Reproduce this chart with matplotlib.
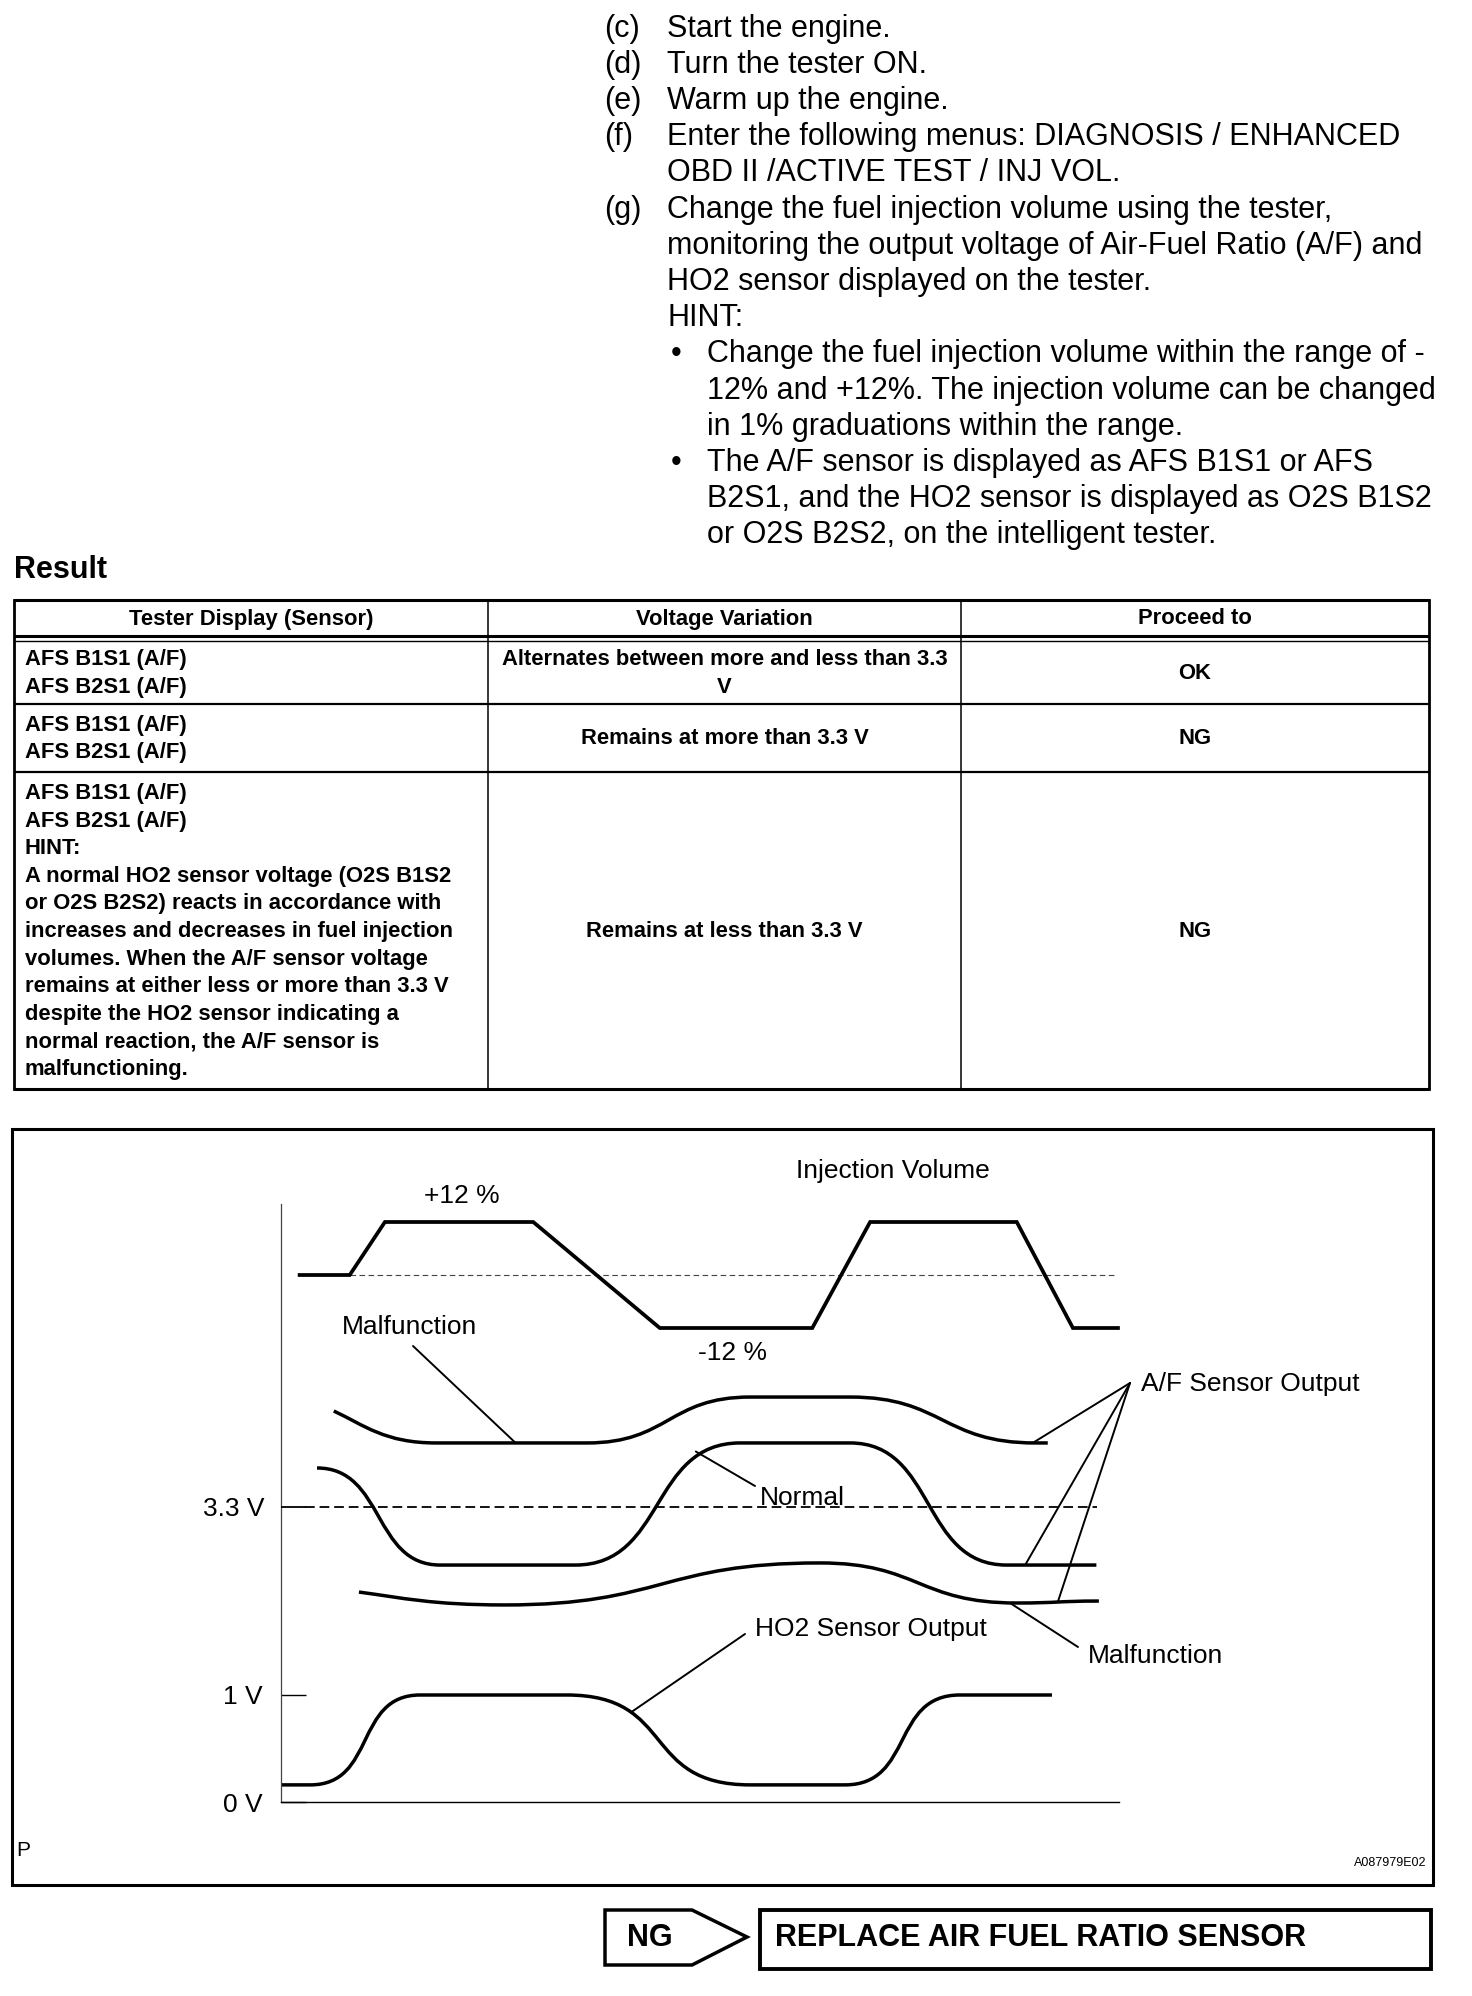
import matplotlib
matplotlib.use("Agg")
import matplotlib.pyplot as plt
from matplotlib.path import Path
from matplotlib.patches import PathPatch, Polygon, Rectangle

plt.rcParams['font.family'] = ['Liberation Sans', 'DejaVu Sans']
plt.rcParams['lines.scale_dashes'] = False

W, H = 1472, 1996

# ---------------- data ----------------
steps = [
    ("(c)", "Start the engine."),
    ("(d)", "Turn the tester ON."),
    ("(e)", "Warm up the engine."),
    ("(f)", "Enter the following menus: DIAGNOSIS / ENHANCED"),
    ("", "OBD II /ACTIVE TEST / INJ VOL."),
    ("(g)", "Change the fuel injection volume using the tester,"),
    ("", "monitoring the output voltage of Air-Fuel Ratio (A/F) and"),
    ("", "HO2 sensor displayed on the tester."),
    ("", "HINT:"),
]
hint_bullets = [
    ["Change the fuel injection volume within the range of -",
     "12% and +12%. The injection volume can be changed",
     "in 1% graduations within the range."],
    ["The A/F sensor is displayed as AFS B1S1 or AFS",
     "B2S1, and the HO2 sensor is displayed as O2S B1S2",
     "or O2S B2S2, on the intelligent tester."],
]

table_headers = ["Tester Display (Sensor)", "Voltage Variation", "Proceed to"]
table_sensor = [
    ["AFS B1S1 (A/F)", "AFS B2S1 (A/F)"],
    ["AFS B1S1 (A/F)", "AFS B2S1 (A/F)"],
    ["AFS B1S1 (A/F)", "AFS B2S1 (A/F)", "HINT:",
     "A normal HO2 sensor voltage (O2S B1S2",
     "or O2S B2S2) reacts in accordance with",
     "increases and decreases in fuel injection",
     "volumes. When the A/F sensor voltage",
     "remains at either less or more than 3.3 V",
     "despite the HO2 sensor indicating a",
     "normal reaction, the A/F sensor is",
     "malfunctioning."],
]
table_variation = [["Alternates between more and less than 3.3", "V"],
                   ["Remains at more than 3.3 V"],
                   ["Remains at less than 3.3 V"]]
table_proceed = ["OK", "NG", "NG"]

# waveform data (time 0..100, injection in %, sensor outputs in V)
inj_t = [2.0, 8.2, 12.4, 30.1, 45.2, 63.4, 70.3, 87.8, 94.5, 100.1]
inj_v = [0, 0, 12, 12, -12, -12, 12, 12, -12, -12]

af_mal_hi_t = [6.3, 18.5, 36.5, 56.0, 67.9, 90.0, 91.5]
af_mal_hi_v = [3.94, 3.727, 3.727, 4.033, 4.033, 3.727, 3.727]

af_norm_t = [4.3, 19.0, 35.1, 54.8, 67.9, 86.6, 97.3]
af_norm_v = [3.56, 2.913, 2.913, 3.727, 3.727, 2.913, 2.913]

af_mal_lo_t = [9.3, 26.7, 64.3, 87.8, 97.6]
af_mal_lo_v = [2.733, 2.647, 2.927, 2.66, 2.673]

ho2_t = [0.0, 3.5, 16.6, 34.1, 56.0, 67.3, 81.0, 92.0]
ho2_v = [0.16, 0.16, 1.0, 1.0, 0.16, 0.16, 1.0, 1.0]

af_threshold = 3.3

# ---------------- figure ----------------
fig = plt.figure(figsize=(W / 100, H / 100), dpi=100)
ax = fig.add_axes([0, 0, 1, 1])
ax.set_xlim(0, W)
ax.set_ylim(H, 0)
ax.axis('off')

BODY = 22
# instruction text
y0, dy = 28.5, 36.2
for i, (lab, txt) in enumerate(steps):
    y = y0 + dy * i
    if lab:
        ax.text(604, y, lab, fontsize=BODY, va='center', ha='left')
    ax.text(667, y, txt, fontsize=BODY, va='center', ha='left')
k = len(steps)
for bl in hint_bullets:
    for j, line in enumerate(bl):
        y = y0 + dy * k
        if j == 0:
            ax.text(671, y, "\u2022", fontsize=BODY, va='center', ha='left')
        ax.text(707, y, line, fontsize=BODY, va='center', ha='left')
        k += 1

ax.text(14, 570, "Result", fontsize=22, fontweight='bold', va='center', ha='left')

# table
TX = [14, 488, 961, 1429]
ty_top, ty_h1, ty_h2, ty_r1, ty_r2, ty_bot = 600, 636, 641, 704, 772, 1089
ax.plot([TX[0], TX[3]], [ty_top, ty_top], color='k', lw=2.2, solid_capstyle='butt')
ax.plot([TX[0], TX[3]], [ty_h1, ty_h1], color='k', lw=2.2, solid_capstyle='butt')
ax.plot([TX[0], TX[3]], [ty_h2, ty_h2], color='k', lw=1.0, solid_capstyle='butt')
ax.plot([TX[0], TX[3]], [ty_r1, ty_r1], color='k', lw=1.6, solid_capstyle='butt')
ax.plot([TX[0], TX[3]], [ty_r2, ty_r2], color='k', lw=1.6, solid_capstyle='butt')
ax.plot([TX[0], TX[3]], [ty_bot, ty_bot], color='k', lw=2.2, solid_capstyle='butt')
for i, x in enumerate(TX):
    ax.plot([x, x], [ty_top, ty_bot], color='k', lw=2.0 if i in (0, 3) else 1.1,
            solid_capstyle='projecting')

TFS = 15.8
ccx = [(TX[0] + TX[1]) / 2, (TX[1] + TX[2]) / 2, (TX[2] + TX[3]) / 2]
for c, h in enumerate(table_headers):
    ax.text(ccx[c], 619, h, fontsize=TFS, fontweight='bold', ha='center', va='center')

row_bounds = [(ty_h2, ty_r1), (ty_r1, ty_r2), (ty_r2, ty_bot)]
LS = 27.6
for r, (ya, yb) in enumerate(row_bounds):
    yc = (ya + yb) / 2 + 1
    lines = table_sensor[r]
    start = yc - LS * (len(lines) - 1) / 2
    for j, line in enumerate(lines):
        ax.text(25, start + LS * j, line, fontsize=TFS, fontweight='bold', ha='left', va='center')
    vl = table_variation[r]
    start = yc - LS * (len(vl) - 1) / 2
    for j, line in enumerate(vl):
        ax.text(ccx[1], start + LS * j, line, fontsize=TFS, fontweight='bold', ha='center', va='center')
    ax.text(ccx[2], yc, table_proceed[r], fontsize=TFS, fontweight='bold', ha='center', va='center')

# diagram frame
ax.add_patch(Rectangle((12, 1129), 1433 - 12, 1885 - 1129, fill=False, lw=2.2, ec='k'))


def px_axes(x0, y0, x1, y1):
    return fig.add_axes([x0 / W, 1 - y1 / H, (x1 - x0) / W, (y1 - y0) / H])


def smooth_path(ts, vs, h=0.55, chord_start=False):
    verts = [(ts[0], vs[0])]
    codes = [Path.MOVETO]
    for i in range(len(ts) - 1):
        t0, v0, t1, v1 = ts[i], vs[i], ts[i + 1], vs[i + 1]
        d = t1 - t0
        if i == 0 and chord_start:
            c1 = (t0 + 0.3 * d, v0 + 0.45 * (v1 - v0))
        else:
            c1 = (t0 + h * d, v0)
        verts += [c1, (t1 - h * d, v1), (t1, v1)]
        codes += [Path.CURVE4] * 3
    return Path(verts, codes)


XL, XR = 281, 1119
DFS = 19

# HO2 axes (carries the vertical axis line and the 0 V base line)
ax_ho2 = px_axes(XL, 1204, XR, 1802)
ax_ho2.set_xlim(0, 100)
ax_ho2.set_ylim(0, (1802 - 1204) / 107)
ax_ho2.patch.set_alpha(0)
for s in ('top', 'right'):
    ax_ho2.spines[s].set_visible(False)
ax_ho2.spines['left'].set_color('#444444')
ax_ho2.spines['left'].set_linewidth(0.9)
ax_ho2.spines['bottom'].set_linewidth(1.0)
ax_ho2.set_xticks([])
ax_ho2.set_yticks([0, 1], labels=['0 V', '1 V'])
ax_ho2.tick_params(axis='y', direction='in', length=18, width=1.0, pad=13, labelsize=DFS)
ax_ho2.add_patch(PathPatch(smooth_path(ho2_t, ho2_v, 0.6), fill=False, lw=2.5, ec='k',
                           clip_on=False, capstyle='butt'))

# A/F axes
ax_af = px_axes(XL, 1380, XR, 1620)
ax_af.set_xlim(0, 100)
ax_af.set_ylim(3.3 - (1620 - 1507) / 150, 3.3 + (1507 - 1380) / 150)
ax_af.patch.set_alpha(0)
for s in ax_af.spines.values():
    s.set_visible(False)
ax_af.set_xticks([])
ax_af.set_yticks([af_threshold], labels=['3.3 V'])
ax_af.tick_params(axis='y', direction='in', length=18, width=1.3, pad=12, labelsize=DFS)
ax_af.axhline(af_threshold, xmin=0.029, xmax=0.974, color='k', lw=1.3, dashes=(7, 3.5))
ax_af.add_patch(PathPatch(smooth_path(af_mal_hi_t, af_mal_hi_v, 0.5, chord_start=True),
                          fill=False, lw=2.5, ec='k', clip_on=False, capstyle='butt'))
ax_af.add_patch(PathPatch(smooth_path(af_norm_t, af_norm_v, 0.55),
                          fill=False, lw=2.5, ec='k', clip_on=False, capstyle='butt'))
ax_af.add_patch(PathPatch(smooth_path(af_mal_lo_t, af_mal_lo_v, 0.5, chord_start=True),
                          fill=False, lw=2.5, ec='k', clip_on=False, capstyle='butt'))

# injection volume axes
ax_inj = px_axes(XL, 1190, XR, 1350)
ax_inj.set_xlim(0, 100)
ax_inj.set_ylim((1275 - 1350) / 4.4167, (1275 - 1190) / 4.4167)
ax_inj.patch.set_alpha(0)
ax_inj.axis('off')
ax_inj.axhline(0, xmin=0.082, xmax=0.995, color='#444444', lw=0.8, dashes=(4, 2.5))
ax_inj.plot(inj_t, inj_v, color='k', lw=2.7, clip_on=False, solid_joinstyle='miter',
            solid_capstyle='butt')

# labels
ax.text(893, 1171, "Injection Volume", fontsize=DFS, ha='center', va='center')
ax.text(462, 1196, "+12 %", fontsize=DFS, ha='center', va='center')
ax.text(733, 1353, "-12 %", fontsize=DFS, ha='center', va='center')
ax.text(409, 1327, "Malfunction", fontsize=DFS, ha='center', va='center')
ax.text(1141, 1384, "A/F Sensor Output", fontsize=DFS, ha='left', va='center')
ax.text(760, 1498, "Normal", fontsize=DFS, ha='left', va='center')
ax.text(755, 1629, "HO2 Sensor Output", fontsize=DFS, ha='left', va='center')
ax.text(1088, 1656, "Malfunction", fontsize=DFS, ha='left', va='center')
ax.text(16, 1851, "P", fontsize=15, ha='left', va='center')
ax.text(1426, 1863, "A087979E02", fontsize=9, ha='right', va='center')

LW_L = 1.4


def leader(data_ax, pt, page_pt):
    ax.annotate('', xy=pt, xycoords=data_ax.transData, xytext=page_pt, textcoords='data',
                arrowprops=dict(arrowstyle='-', lw=LW_L, color='k', shrinkA=0, shrinkB=0))


leader(ax_af, (28.0, af_mal_hi_v[1]), (413, 1346))
leader(ax_af, (49.5, 3.67), (755, 1486))
apex = (1130, 1383)
leader(ax_af, (89.7, af_mal_hi_v[-1]), apex)
leader(ax_af, (88.8, af_norm_v[-1]), apex)
leader(ax_af, (92.7, 2.667), apex)
leader(ax_af, (87.0, 2.66), (1078, 1647))
leader(ax_ho2, (41.8, 0.84), (745, 1634))

# bottom NG box
ax.add_patch(Polygon([(605, 1910), (692, 1910), (747, 1937), (692, 1965), (605, 1965)],
                     closed=True, fill=False, lw=2.5, ec='k', joinstyle='miter'))
ax.add_patch(Rectangle((760, 1910), 1431 - 760, 1969 - 1910, fill=False, lw=2.8, ec='k'))
ax.text(650, 1938, "NG", fontsize=22, fontweight='bold', ha='center', va='center')
ax.text(775, 1938, "REPLACE AIR FUEL RATIO SENSOR", fontsize=22, fontweight='bold',
        ha='left', va='center')

fig.savefig("out.png", dpi=100)
